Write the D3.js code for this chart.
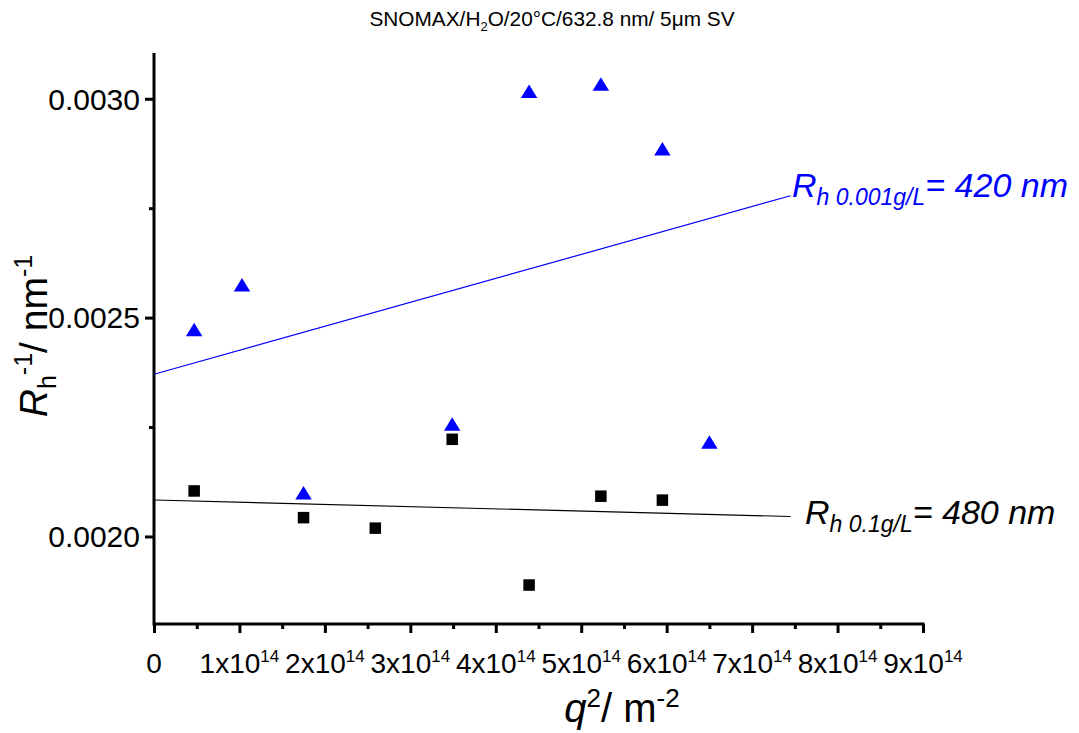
<!DOCTYPE html>
<html>
<head>
<meta charset="utf-8">
<script src="https://cdn.jsdelivr.net/npm/d3@7"></script>
<style>
  html, body { margin: 0; padding: 0; background: #fff; }
  svg { display: block; font-family: Arial, "Liberation Sans", sans-serif; }
</style>
</head>
<body>
<svg id="chart" width="1079" height="733"></svg>
<script>
// q^2 values (units of 1e14 m^-2) for each scattering angle
const q2Low = [0.47, 1.75, 2.59, 3.49, 4.39, 5.23, 5.95];            // 0.1 g/L series
const rInvLow = [0.002104, 0.002043, 0.002019, 0.002222, 0.001889, 0.002092, 0.002083];

const q2High = [0.47, 1.03, 1.75, 3.49, 4.39, 5.23, 5.95, 6.50];    // 0.001 g/L series
const rInvHigh = [0.002473, 0.002575, 0.002100, 0.002257, 0.003017, 0.003034, 0.002886, 0.002216];

// linear fits: [q2 start, q2 end] and values at those ends
const fitRange = [0, 7.45];
const fitLow = [0.0020833, 0.0020456];
const fitHigh = [0.0023705, 0.0027785];

const xTickValues = [0, 1, 2, 3, 4, 5, 6, 7, 8, 9];
const yTickValues = [0.0020, 0.0025, 0.0030];

const svg = d3.select("#chart");
const plotLeft = 154, plotRight = 923, plotTop = 55, plotBottom = 624;

const x = d3.scaleLinear().domain([0, 9]).range([plotLeft, plotRight]);
const y = d3.scaleLinear().domain([0.0018, 0.0031]).range([plotBottom, plotTop]);

// title
const title = svg.append("text")
  .attr("x", 552).attr("y", 26)
  .attr("text-anchor", "middle")
  .attr("font-size", 20.8);
title.append("tspan").text("SNOMAX/H");
title.append("tspan").attr("font-size", 13).attr("dy", 5).text("2");
title.append("tspan").attr("dy", -5).text("O/20°C/632.8 nm/ 5μm SV");

// axes
const xAxis = d3.axisBottom(x).tickValues(xTickValues).tickSize(9).tickFormat("");
const xMinor = d3.axisBottom(x).tickValues(d3.range(0.5, 9, 1)).tickSize(5).tickFormat("");
const yAxis = d3.axisLeft(y).tickValues(yTickValues).tickSize(9).tickFormat("");
const yMinor = d3.axisLeft(y).tickValues([0.00225, 0.00275]).tickSize(5).tickFormat("");

function styleAxis(g) {
  g.select(".domain").remove();
  g.selectAll(".tick line").attr("stroke", "#000").attr("stroke-width", 3);
}

svg.append("g").attr("transform", `translate(0,${plotBottom})`).call(xAxis).call(styleAxis);
svg.append("g").attr("transform", `translate(0,${plotBottom})`).call(xMinor).call(styleAxis);
svg.append("g").attr("transform", `translate(${plotLeft},0)`).call(yAxis).call(styleAxis);
svg.append("g").attr("transform", `translate(${plotLeft},0)`).call(yMinor).call(styleAxis);

// axis lines
svg.append("line").attr("x1", plotLeft).attr("x2", plotRight + 1.5).attr("y1", plotBottom).attr("y2", plotBottom)
  .attr("stroke", "#000").attr("stroke-width", 3);
svg.append("line").attr("x1", plotLeft).attr("x2", plotLeft).attr("y1", plotTop - 2).attr("y2", plotBottom + 1.5)
  .attr("stroke", "#000").attr("stroke-width", 3);

// y tick labels
svg.append("g").selectAll("text").data(yTickValues).join("text")
  .attr("x", plotLeft - 14).attr("y", d => y(d))
  .attr("dy", "0.36em")
  .attr("text-anchor", "end")
  .attr("font-size", 30)
  .text(d => d3.format(".4f")(d));

// x tick labels
const xl = svg.append("g").selectAll("text").data(xTickValues).join("text")
  .attr("x", d => x(d)).attr("y", 673)
  .attr("text-anchor", "middle")
  .attr("font-size", 28);
xl.each(function(d) {
  const t = d3.select(this);
  if (d === 0) { t.text("0"); return; }
  t.append("tspan").text(d + "x10");
  t.append("tspan").attr("font-size", 17).attr("dy", -11).text("14");
});

// axis titles
const yt = svg.append("text")
  .attr("transform", `translate(47,336) rotate(-90)`)
  .attr("text-anchor", "middle")
  .attr("font-size", 39);
yt.append("tspan").attr("font-style", "italic").text("R");
yt.append("tspan").attr("font-size", 25).attr("dy", 9).text("h");
yt.append("tspan").attr("font-size", 25).attr("dy", -24).text("-1");
yt.append("tspan").attr("dy", 15).text("/ nm");
yt.append("tspan").attr("font-size", 25).attr("dy", -15).text("-1");

const xt = svg.append("text")
  .attr("x", 622).attr("y", 722)
  .attr("text-anchor", "middle")
  .attr("font-size", 40);
xt.append("tspan").attr("font-style", "italic").text("q");
xt.append("tspan").attr("font-size", 26).attr("dy", -15).text("2");
xt.append("tspan").attr("dy", 15).text("/ m");
xt.append("tspan").attr("font-size", 26).attr("dy", -15).text("-2");

// fit lines
svg.append("line")
  .attr("x1", x(fitRange[0])).attr("y1", y(fitHigh[0]))
  .attr("x2", x(fitRange[1])).attr("y2", y(fitHigh[1]))
  .attr("stroke", "#0000ff").attr("stroke-width", 1.2);
svg.append("line")
  .attr("x1", x(fitRange[0])).attr("y1", y(fitLow[0]))
  .attr("x2", x(fitRange[1])).attr("y2", y(fitLow[1]))
  .attr("stroke", "#000").attr("stroke-width", 1.2);

// squares (0.1 g/L)
const sq = 11.5;
svg.append("g").selectAll("rect").data(q2Low.map((q, i) => [q, rInvLow[i]])).join("rect")
  .attr("x", d => x(d[0]) - sq / 2).attr("y", d => y(d[1]) - sq / 2)
  .attr("width", sq).attr("height", sq).attr("fill", "#000");

// triangles (0.001 g/L)
const tw = 16.5, th = 13.5;
svg.append("g").selectAll("path").data(q2High.map((q, i) => [q, rInvHigh[i]])).join("path")
  .attr("d", d => {
    const cx = x(d[0]), cy = y(d[1]);
    return `M${cx},${cy - th / 2}L${cx + tw / 2},${cy + th / 2}L${cx - tw / 2},${cy + th / 2}Z`;
  })
  .attr("fill", "#0000ff");

// fit annotations
function annot(px, py, conc, val, color) {
  const t = svg.append("text").attr("x", px).attr("y", py)
    .attr("font-size", 34).attr("font-style", "italic").attr("fill", color);
  t.append("tspan").text("R");
  t.append("tspan").attr("font-size", 23).attr("dy", 8).text("h " + conc);
  t.append("tspan").attr("dy", -8).text("= " + val + " nm");
}
annot(792, 197, "0.001g/L", "420", "#0000ff");
annot(805, 524, "0.1g/L", "480", "#000");
</script>
</body>
</html>
